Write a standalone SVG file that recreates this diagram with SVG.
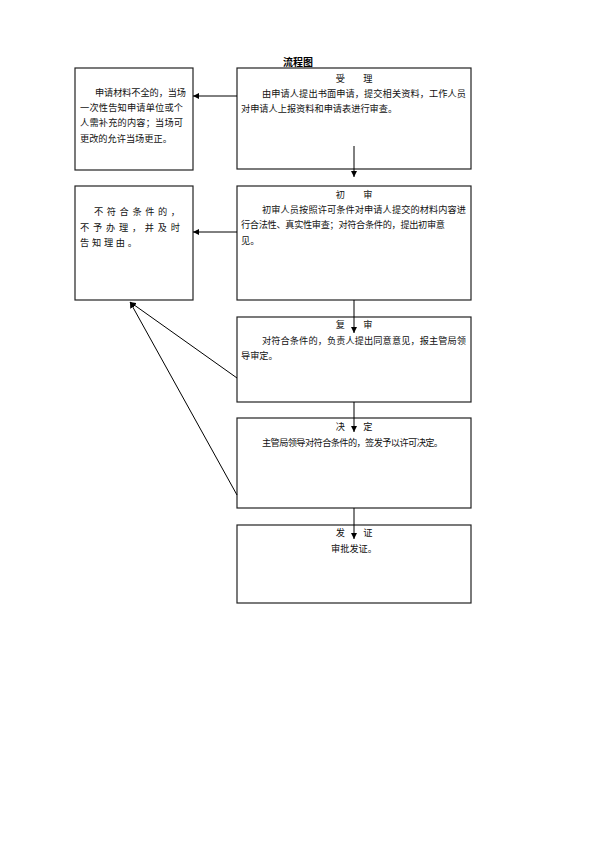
<svg xmlns="http://www.w3.org/2000/svg" width="595" height="841" viewBox="0 0 595 841">
<style>
.box{fill:#fff;stroke:#222;stroke-width:1.2}
.t{font-family:"Noto Sans CJK SC","Liberation Serif",serif;font-size:9.2px;fill:#111}
.c{text-anchor:middle}
.ttl{font-family:"Noto Sans CJK SC","Liberation Sans",sans-serif;font-size:10px;font-weight:bold;fill:#000}
.ln{stroke:#000;stroke-width:1;fill:none}
</style>
<defs>
<marker id="ah" viewBox="0 0 10 10" refX="10" refY="5" markerWidth="6" markerHeight="6" markerUnits="userSpaceOnUse" orient="auto">
<path d="M0,0 L10,5 L0,10 z" fill="#000"/>
</marker>
</defs>
<text class="ttl" x="298" y="66" text-anchor="middle">流程图</text>
<g id="n1">
<rect class="box" x="237" y="68" width="234" height="101"/>
<text class="t c" x="354" y="82">受　　理</text>
<text class="t" x="262" y="97" textLength="204" lengthAdjust="spacing">由申请人提出书面申请，提交相关资料，工作人员</text>
<text class="t" x="241" y="112">对申请人上报资料和申请表进行审查。</text>
</g>
<g id="l1">
<rect class="box" x="75" y="68" width="118" height="102"/>
<text class="t" x="95" y="96" textLength="91" lengthAdjust="spacing">申请材料不全的，当场</text>
<text class="t" x="80" y="111" textLength="103" lengthAdjust="spacing">一次性告知申请单位或个</text>
<text class="t" x="80" y="126" textLength="103" lengthAdjust="spacing">人需补充的内容；当场可</text>
<text class="t" x="80" y="142">更改的允许当场更正。</text>
</g>
<g id="n2">
<rect class="box" x="237" y="186" width="234" height="114"/>
<text class="t c" x="354" y="198">初　　审</text>
<text class="t" x="262" y="213" textLength="204" lengthAdjust="spacing">初审人员按照许可条件对申请人提交的材料内容进</text>
<text class="t" x="241" y="228" textLength="204" lengthAdjust="spacing">行合法性、真实性审查；对符合条件的，提出初审意</text>
<text class="t" x="241" y="244">见。</text>
</g>
<g id="l2">
<rect class="box" x="75" y="186" width="118" height="114"/>
<text class="t" x="94" y="215" textLength="86" lengthAdjust="spacing">不符合条件的，</text>
<text class="t" x="80" y="231" textLength="100" lengthAdjust="spacing">不予办理，并及时</text>
<text class="t" x="80" y="246" textLength="57" lengthAdjust="spacing">告知理由。</text>
</g>
<g id="n3">
<rect class="box" x="237" y="317" width="234" height="85"/>
<text class="t c" x="354" y="328">复　　审</text>
<text class="t" x="262" y="344" textLength="204" lengthAdjust="spacing">对符合条件的，负责人提出同意意见，报主管局领</text>
<text class="t" x="241" y="359">导审定。</text>
</g>
<g id="n4">
<rect class="box" x="237" y="418" width="234" height="90"/>
<text class="t c" x="354" y="430">决　　定</text>
<text class="t" x="262" y="446" textLength="181" lengthAdjust="spacing">主管局领导对符合条件的，签发予以许可决定。</text>
</g>
<g id="n5">
<rect class="box" x="237" y="525" width="234" height="78"/>
<text class="t c" x="354" y="536">发　　证</text>
<text class="t c" x="354" y="552">审批发证。</text>
</g>
<g id="connectors">
<line class="ln" x1="237" y1="96" x2="193" y2="96" marker-end="url(#ah)"/>
<line class="ln" x1="237" y1="232" x2="193" y2="232" marker-end="url(#ah)"/>
<line class="ln" x1="354" y1="146" x2="354" y2="177" marker-end="url(#ah)"/>
<line class="ln" x1="354" y1="300" x2="354" y2="333" marker-end="url(#ah)"/>
<line class="ln" x1="354" y1="402" x2="354" y2="432" marker-end="url(#ah)"/>
<line class="ln" x1="354" y1="508" x2="354" y2="539" marker-end="url(#ah)"/>
<line class="ln" x1="237" y1="378" x2="130" y2="302" marker-end="url(#ah)"/>
<line class="ln" x1="237" y1="495" x2="130" y2="302" marker-end="url(#ah)"/>
</g>
</svg>
